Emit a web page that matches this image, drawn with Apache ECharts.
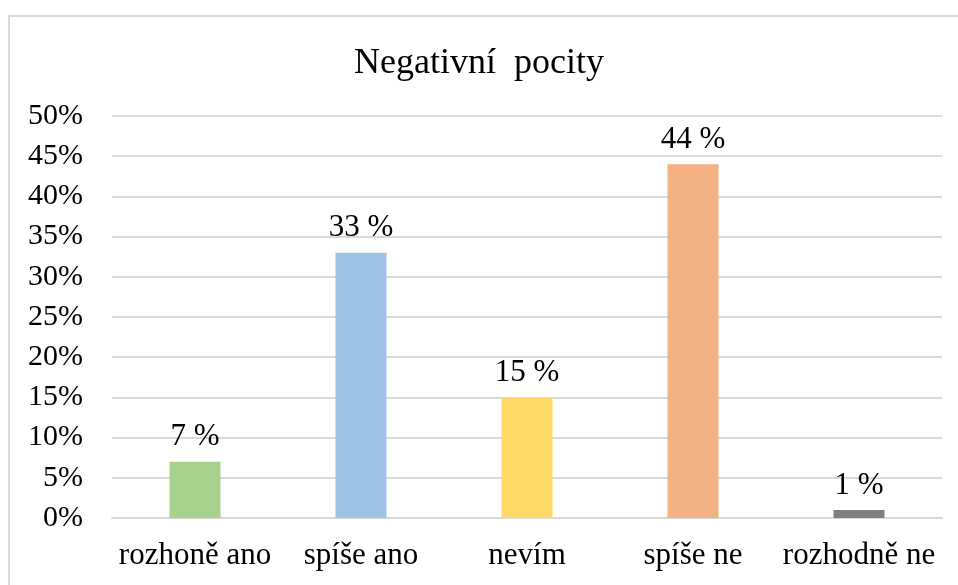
<!DOCTYPE html>
<html>
<head>
<meta charset="utf-8">
<script src="https://cdn.jsdelivr.net/npm/echarts@6/dist/echarts.min.js"></script>
<style>
  html, body { margin: 0; padding: 0; background: #fff; }
  #chart { width: 958px; height: 585px; }
</style>
</head>
<body>
<div id="chart"></div>
<script>
// Answer categories and share of respondents (%)
const categories = ['rozhoně ano', 'spíše ano', 'nevím', 'spíše ne', 'rozhodně ne'];
const values = [7, 33, 15, 44, 1];
const barColors = ['#A9D18E', '#9DC3E6', '#FFD966', '#F4B183', '#7F7F7F'];
const titleText = 'Negativní  pocity';

const FONT = '"Liberation Serif", "Times New Roman", serif';

const chart = echarts.init(document.getElementById('chart'));
chart.setOption({
  animation: false,
  backgroundColor: '#fff',
  graphic: [{
    type: 'rect',
    shape: { x: 9, y: 16, width: 1000, height: 700 },
    style: { fill: 'none', stroke: '#d9d9d9', lineWidth: 2 },
    silent: true
  }],
  title: {
    text: titleText,
    left: 'center',
    top: 41,
    textStyle: { fontFamily: FONT, fontSize: 36, fontWeight: 'normal', color: '#000' }
  },
  grid: { left: 112, right: 16, top: 116, bottom: 67 },
  xAxis: {
    type: 'category',
    data: categories,
    axisLine: { show: true, lineStyle: { color: '#d9d9d9', width: 2 } },
    axisTick: { show: false },
    axisLabel: { fontFamily: FONT, fontSize: 31, color: '#000', margin: 22, interval: 0 }
  },
  yAxis: {
    type: 'value',
    min: 0,
    max: 50,
    interval: 5,
    axisLine: { show: false },
    axisTick: { show: false },
    splitLine: { lineStyle: { color: '#d9d9d9', width: 2 } },
    axisLabel: { fontFamily: FONT, fontSize: 30, color: '#000', margin: 29, formatter: '{value}%' }
  },
  series: [{
    type: 'bar',
    barWidth: 51,
    data: values.map((v, i) => ({ value: v, itemStyle: { color: barColors[i] } })),
    label: {
      show: true,
      position: 'top',
      distance: 9,
      fontFamily: FONT,
      fontSize: 31,
      color: '#000',
      formatter: p => p.value + ' %'
    }
  }]
});
</script>
</body>
</html>
